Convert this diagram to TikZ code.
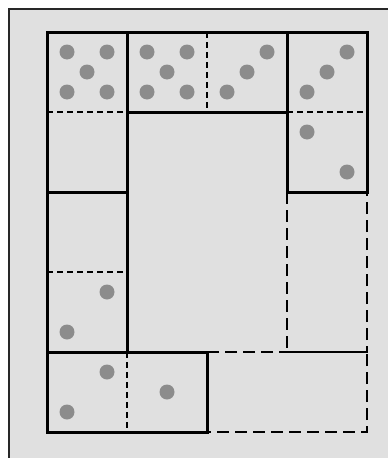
\documentclass[tikz,border=0pt]{standalone}
\begin{document}
\begin{tikzpicture}[x=1pt,y=-1pt,
  frame/.style={fill={rgb,255:red,224;green,224;blue,224},draw={rgb,255:red,40;green,40;blue,40},line width=2pt},
  domino/.style={draw=black,line width=3pt,line join=miter},
  half/.style={draw=black,line width=1.4pt,dash pattern=on 6pt off 4pt},
  empty/.style={draw=black,line width=1.6pt,dash pattern=on 12pt off 6pt},
  pip/.style={fill={rgb,255:red,140;green,140;blue,140}}]
\useasboundingbox (0,0) rectangle (388,458);
\clip (0,0) rectangle (388,458);
\fill[white] (0,0) rectangle (388,458);
\draw[frame] (9,9) rectangle (400,470);
% empty dominoes (dashed)
\draw[empty] (287,192) rectangle (367,352);
\draw[empty] (207,352) rectangle (367,432);
% dividing lines
\draw[half] (47,112) -- (127,112);
\draw[half] (207,32) -- (207,112);
\draw[half] (287,112) -- (367,112);
\draw[half] (47,272) -- (127,272);
\draw[half] (127,352) -- (127,432);
% dominoes
\draw[domino] (47,32) rectangle (127,192);
\draw[domino] (127,32) rectangle (287,112);
\draw[domino] (287,32) rectangle (367,192);
\draw[domino] (47,192) rectangle (127,352);
\draw[domino] (47,352) rectangle (207,432);
% pips
\foreach \x/\y in {67/52,107/52,87/72,67/92,107/92,
                   147/52,187/52,167/72,147/92,187/92,
                   267/52,247/72,227/92,
                   347/52,327/72,307/92,
                   307/132,347/172,
                   107/292,67/332,
                   107/372,67/412,
                   167/392}
  \fill[pip] (\x,\y) circle (7.5);
\end{tikzpicture}
\end{document}
